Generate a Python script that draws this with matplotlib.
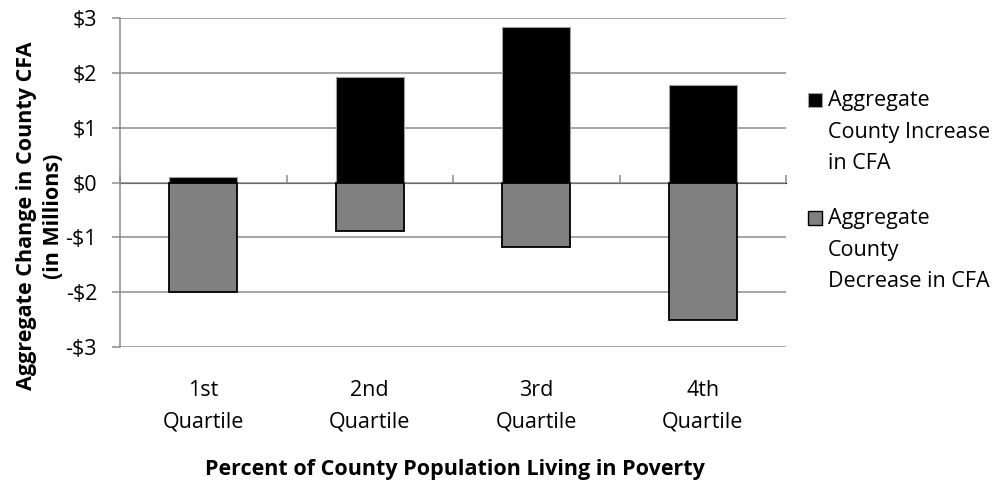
import matplotlib
matplotlib.use("Agg")
import matplotlib.pyplot as plt
from matplotlib.patches import Rectangle
import numpy as np

plt.rcParams['font.family'] = ['Open Sans', 'DejaVu Sans']

# Data (millions of dollars)
categories = ["1st\nQuartile", "2nd\nQuartile", "3rd\nQuartile", "4th\nQuartile"]
increase = [0.10, 1.93, 2.85, 1.79]
decrease = [-2.00, -0.88, -1.17, -2.51]
series_names = ["Aggregate\nCounty Increase\nin CFA", "Aggregate\nCounty\nDecrease in CFA"]
yticks = [-3, -2, -1, 0, 1, 2, 3]
ytick_labels = ["-$3", "-$2", "-$1", "$0", "$1", "$2", "$3"]

GRID = "#8c8c8c"
FS = 15.5
INC_COLOR, INC_EDGE = "black", "#a0a0a0"
DEC_COLOR, DEC_EDGE = "#808080", "black"

W, H = 1003, 483
fig = plt.figure(figsize=(W / 100, H / 100), dpi=100)
ax = fig.add_axes([120 / W, 1 - 347 / H, 666 / W, (347 - 18.3) / H])

x = np.arange(len(categories))
w = 0.41
ax.bar(x, increase, width=w, color=INC_COLOR, edgecolor=INC_EDGE, linewidth=0.8, zorder=3)
ax.bar(x, decrease, width=w, color=DEC_COLOR, edgecolor=DEC_EDGE, linewidth=1.3, zorder=3)

ax.set_xlim(-0.5, len(categories) - 0.5)
ax.set_ylim(-3, 3)
ax.set_yticks(yticks)
ax.set_yticklabels(ytick_labels, fontsize=FS)
ax.yaxis.grid(True, color=GRID, linewidth=1.1, zorder=0)
ax.set_axisbelow(True)

for side in ("top", "right", "bottom"):
    ax.spines[side].set_visible(False)
ax.spines["left"].set_color(GRID)
ax.spines["left"].set_linewidth(1.1)
ax.tick_params(axis="y", direction="out", length=5.5, color=GRID, width=1.1, pad=11)

# Category labels along the bottom, no tick marks there
ax.set_xticks(x)
ax.set_xticklabels(categories, fontsize=FS, linespacing=1.62)
ax.tick_params(axis="x", length=0, pad=24)

# Category-boundary tick marks hanging from the zero line
zero_axis = ax.secondary_xaxis(0.5)
zero_axis.set_xticks(np.arange(len(categories) + 1) - 0.5)
zero_axis.set_xticklabels([])
zero_axis.tick_params(direction="out", length=5.5, color=GRID, width=1.1)
zero_axis.spines["bottom"].set_color(GRID)
zero_axis.spines["bottom"].set_linewidth(1.1)

fig.text(455 / W, 1 - 475 / H, "Percent of County Population Living in Poverty",
         ha="center", va="baseline", fontsize=FS, fontweight="bold")

fig.text(40 / W, 1 - 216 / H, "Aggregate Change in County CFA\n(in Millions)",
         rotation=90, ha="center", va="center", fontsize=FS, fontweight="bold",
         multialignment="center", linespacing=1.42)

# Legend: square swatch beside the first line of each wrapped label
legend_entries = [(INC_COLOR, INC_EDGE, 0.8, 93), (DEC_COLOR, DEC_EDGE, 1.0, 211)]
for (fc, ec, lw, top), name in zip(legend_entries, series_names):
    fig.add_artist(Rectangle((808 / W, 1 - (top + 14) / H), 14 / W, 14 / H,
                             transform=fig.transFigure, facecolor=fc,
                             edgecolor=ec, linewidth=lw))
    fig.text(828 / W, 1 - (top - 3) / H, name, ha="left", va="top",
             fontsize=FS, linespacing=1.66)

fig.savefig("out.png", dpi=100)
